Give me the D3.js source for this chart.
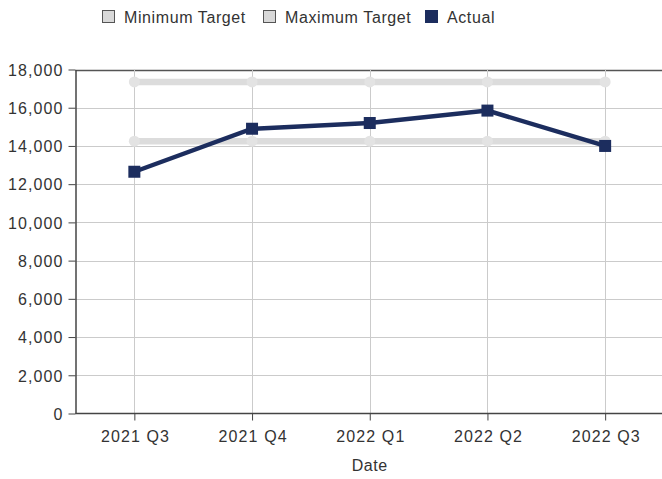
<!DOCTYPE html>
<html><head><meta charset="utf-8">
<script src="https://cdn.jsdelivr.net/npm/d3@7"></script>
<style>body{margin:0;background:#fff;} text{font-family:"Liberation Sans",Arial,sans-serif;}</style>
</head><body><svg id="c" width="662" height="479"></svg>
<script>
const categories = ["2021 Q3","2021 Q4","2022 Q1","2022 Q2","2022 Q3"];
const minTarget = [14250,14250,14250,14250,14250];
const maxTarget = [17350,17350,17350,17350,17350];
const actual = [12650,14900,15200,15850,14000];
const yTicks = [0,2000,4000,6000,8000,10000,12000,14000,16000,18000];
const seriesNames = ["Minimum Target","Maximum Target","Actual"];

const svg = d3.select("#c");
const m = {left:75.5, top:69.5, right:664, bottom:413.5};
const x = d3.scalePoint().domain(categories).range([m.left, m.right]).padding(0.5);
const y = d3.scaleLinear().domain([0,18000]).range([m.bottom, m.top]);

// grid
svg.append("g").selectAll("line").data(yTicks.slice(1)).join("line")
  .attr("x1", m.left).attr("x2", 662).attr("y1", d=>Math.round(y(d))+0.5).attr("y2", d=>Math.round(y(d))+0.5)
  .attr("stroke", d=> d===18000 ? "#555" : "#cbcbcb").attr("stroke-width", d=> d===18000?1.5:1);
svg.append("g").selectAll("line").data(categories).join("line")
  .attr("x1", d=>Math.round(x(d))+0.5).attr("x2", d=>Math.round(x(d))+0.5).attr("y1", m.top).attr("y2", m.bottom)
  .attr("stroke", "#cbcbcb");

// axes
const fmt = d3.format(",");
const yAxis = svg.append("g").attr("transform", `translate(${m.left},0)`)
  .call(d3.axisLeft(y).tickValues(yTicks).tickFormat(fmt).tickSize(7).tickSizeOuter(0));
const xAxis = svg.append("g").attr("transform", `translate(0,${m.bottom})`)
  .call(d3.axisBottom(x).tickSize(7).tickSizeOuter(0));
[yAxis, xAxis].forEach(a=>{
  a.select(".domain").attr("stroke","#444").attr("stroke-width",1.5);
  a.selectAll(".tick line").attr("stroke","#444");
  a.selectAll("text").attr("fill","#333").style("font-size","16px").style("letter-spacing","1.1px");
});
yAxis.selectAll("text").attr("x",-12).attr("dy","0.36em");
xAxis.selectAll("text").attr("y",17).attr("dx","0.6px");
xAxis.select(".domain").attr("d", `M${m.left},0H662`);

svg.append("text").attr("x", x("2022 Q1")).attr("y", 471).attr("text-anchor","middle")
  .attr("fill","#333").style("font-size","16px").style("letter-spacing","0.6px").text("Date");

const line = d3.line().x((d,i)=>x(categories[i])).y(d=>y(d));
// target lines
[minTarget, maxTarget].forEach(s=>{
  svg.append("path").datum(s).attr("d", line).attr("fill","none")
    .attr("stroke","#dcdcdc").attr("stroke-width",6.5).attr("stroke-linecap","round");
  svg.append("g").selectAll("circle").data(s).join("circle")
    .attr("cx",(d,i)=>x(categories[i])).attr("cy",d=>y(d)).attr("r",5.5).attr("fill","#e3e3e3");
});
// actual
svg.append("path").datum(actual).attr("d", line).attr("fill","none")
  .attr("stroke","#1c2d5e").attr("stroke-width",4.5);
svg.append("g").selectAll("rect").data(actual).join("rect")
  .attr("x",(d,i)=>x(categories[i])-6).attr("y",d=>y(d)-6).attr("width",12).attr("height",12)
  .attr("fill","#1c2d5e");

// legend
const legX = [102, 263, 425];
const legFill = ["#d8d8d8","#d8d8d8","#1c2d5e"];
const lg = svg.append("g").selectAll("g").data(seriesNames).join("g")
  .attr("transform",(d,i)=>`translate(${legX[i]},10)`);
lg.append("rect").attr("x",0.5).attr("y",0.5).attr("width",12).attr("height",12)
  .attr("fill",(d,i)=>legFill[i]).attr("stroke",(d,i)=> i===2?"#1c2d5e":"#555");
lg.append("text").attr("x",22).attr("y",13).attr("fill","#333").style("font-size","16px")
  .style("letter-spacing","0.6px").text(d=>d);
</script></body></html>
